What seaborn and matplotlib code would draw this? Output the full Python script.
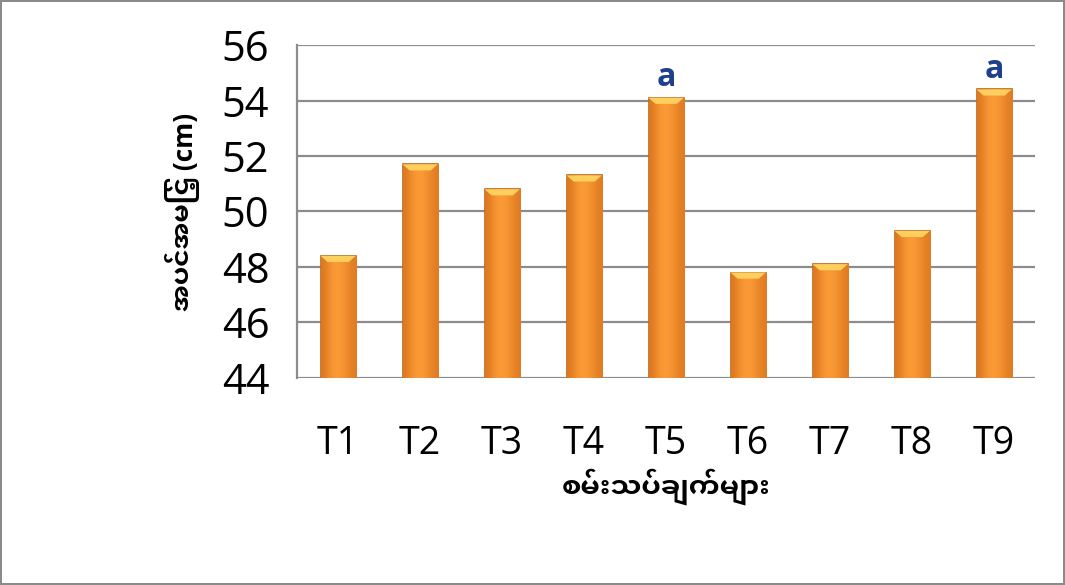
import numpy as np
import pandas as pd
import seaborn as sns
import matplotlib.pyplot as plt

treatments = ['T1', 'T2', 'T3', 'T4', 'T5', 'T6', 'T7', 'T8', 'T9']
height_cm = [48.4, 51.7, 50.8, 51.3, 54.1, 47.8, 48.1, 49.3, 54.4]
letters = ['', '', '', '', 'a', '', '', '', 'a']
y_ticks = [44, 46, 48, 50, 52, 54, 56]

x_title = 'စမ်းသပ်ချက်များ'
y_title = 'အပင်အမြင့် (cm)'

sns.set_style('white')
plt.rcParams['font.family'] = ['Open Sans', 'Noto Sans Myanmar UI', 'DejaVu Sans']
mm_fonts = ['Noto Sans Myanmar UI', 'Open Sans', 'DejaVu Sans']

df = pd.DataFrame({'trt': treatments, 'h': height_cm})

fig = plt.figure(figsize=(10.65, 5.85), dpi=100)
fig.patch.set_edgecolor('#8a8a8a')
fig.patch.set_linewidth(1.5)
ax = fig.add_axes([0.279, 0.354, 0.693, 0.569])

sns.barplot(data=df, x='trt', y='h', ax=ax, color='#F5922F', width=0.43,
            edgecolor='#B8651C', linewidth=1.2, saturation=1)

# horizontal shading + lighter top bevel, roughly like the excel bevel style
grad = np.array([[0.0, 0.7, 1.0, 0.9, 0.5, 0.1]])
cmap = sns.blend_palette(['#DE7820', '#FB9B36'], as_cmap=True)
for p in list(ax.patches):
    x0, w, top = p.get_x(), p.get_width(), p.get_y() + p.get_height()
    im = ax.imshow(grad, extent=[x0, x0 + w, 44, top], aspect='auto', cmap=cmap,
                   interpolation='bicubic', zorder=2.5)
    im.set_clip_path(p)
    ax.fill([x0, x0 + w, x0 + w * 0.8, x0 + w * 0.2], [top, top, top - 0.22, top - 0.22],
            color='#FFCF5E', zorder=3, lw=0)

ax.set_ylim(44, 56)
ax.set_yticks(y_ticks)
ax.set_xlim(-0.5, len(treatments) - 0.5)
ax.yaxis.grid(True, color='#8c8c8c', lw=1.6)
ax.set_axisbelow(True)
for s in ['top', 'right', 'bottom']:
    ax.spines[s].set_visible(False)
ax.spines['left'].set_color('#8c8c8c')
ax.spines['left'].set_linewidth(1.6)
ax.tick_params(axis='y', length=10, width=1.6, color='#8c8c8c', labelsize=30,
               labelcolor='black', pad=10)
ax.tick_params(axis='x', length=0, labelsize=27, labelcolor='black', pad=34)

for i, (v, t) in enumerate(zip(height_cm, letters)):
    if t:
        ax.text(i, v + 0.12, t, ha='center', va='bottom', fontsize=23,
                fontweight='bold', color='#1F3F8F')

ax.set_xlabel(x_title, fontsize=20, fontweight='bold', labelpad=4,
              family=mm_fonts, color='black')
ax.set_ylabel(y_title, fontsize=19, fontweight='bold', labelpad=16,
              family=mm_fonts, color='black')

plt.savefig('out.png', dpi=100)
